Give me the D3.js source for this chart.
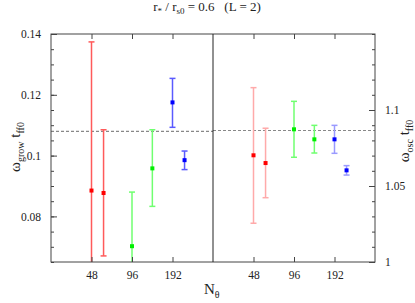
<!DOCTYPE html>
<html lang="en">
<head>
<meta charset="utf-8">
<title>growth and oscillation rates vs N_theta</title>
<script src="https://d3js.org/d3.v7.min.js"></script>
<style>
  body { margin: 0; background: #fff; }
  svg text { font-family: "Liberation Serif", "Times New Roman", Times, "DejaVu Serif", serif !important; fill: #222; }
</style>
</head>
<body>
<script>
// resolution ticks (N_theta)
var nTicks = [48, 96, 192];
// x positions of each point (second run of each colour is shifted a bit)
var nPos = [48, 59, 96, 136, 192, 236];
var group = ["red", "red", "green", "green", "blue", "blue"];

// left panel: omega_grow t_ff0
var growVal = [0.0885, 0.0877, 0.0702, 0.0958, 0.1175, 0.0985];
var growLo  = [0.0396, 0.0670, 0.0524, 0.0833, 0.1093, 0.0954];
var growHi  = [0.1374, 0.1085, 0.0880, 0.1085, 0.1254, 0.1015];
var growTicks = [0.08, 0.1, 0.12, 0.14];
var growRef = 0.108;

// right panel: omega_osc t_ff0
var oscVal = [1.0702, 1.0651, 1.0873, 1.0807, 1.0807, 1.0603];
var oscLo  = [1.0255, 1.0423, 1.0689, 1.0717, 1.0715, 1.0572];
var oscHi  = [1.1147, 1.0880, 1.1057, 1.0899, 1.0899, 1.0634];
var oscTicks = [1, 1.05, 1.1];
var oscRef = 1.0865;

var w = 415, h = 303;
// plot frame (note: "top" is reserved on window, so use pTop etc.)
var pLeft = 51, pMid = 213, pRight = 375, pTop = 34, pBottom = 262;
var axisCol = "#444";
var serif = "'Liberation Serif', 'Times New Roman', Times, 'DejaVu Serif', serif";

var markCol = { red: "#ff0000", green: "#00ee00", blue: "#0000ff" };
var barColL = { red: "#ff5a5a", green: "#70ff70", blue: "#5a5aff" };
var barColR = { red: "#ffaaaa", green: "#70ff70", blue: "#9a9aff" };

var svg = d3.select("body").append("svg")
  .attr("width", w).attr("height", h)
  .attr("font-family", serif);

var xL = d3.scaleLog().domain([24, 384]).range([pLeft, pMid]);
var xR = d3.scaleLog().domain([24, 384]).range([pMid, pRight]);
var yL = d3.scaleLinear().domain([0.065, 0.14]).range([pBottom, pTop]);
var yR = d3.scaleLinear().domain([1, 1.15]).range([pBottom, pTop]);

var defs = svg.append("defs");
defs.append("clipPath").attr("id", "clipL").append("rect")
  .attr("x", pLeft).attr("y", pTop).attr("width", pMid - pLeft).attr("height", pBottom - pTop);
defs.append("clipPath").attr("id", "clipR").append("rect")
  .attr("x", pMid).attr("y", pTop).attr("width", pRight - pMid).attr("height", pBottom - pTop);

function panel(x, y, val, lo, hi, ref, barCol, clip) {
  var g = svg.append("g").attr("clip-path", "url(#" + clip + ")");
  var xr = x.range();
  g.append("line")
    .attr("x1", xr[0]).attr("x2", xr[1])
    .attr("y1", y(ref)).attr("y2", y(ref))
    .attr("stroke", "#888").attr("stroke-width", 1.2)
    .attr("stroke-dasharray", "3,2");
  nPos.forEach(function(n, i) {
    var cx = x(n), c = barCol[group[i]];
    g.append("line").attr("x1", cx).attr("x2", cx)
      .attr("y1", y(lo[i])).attr("y2", y(hi[i]))
      .attr("stroke", c).attr("stroke-width", 1.5);
    [lo[i], hi[i]].forEach(function(v) {
      g.append("line").attr("x1", cx - 3).attr("x2", cx + 3)
        .attr("y1", y(v)).attr("y2", y(v))
        .attr("stroke", c).attr("stroke-width", 1.5);
    });
    g.append("rect")
      .attr("x", cx - 2).attr("y", y(val[i]) - 2)
      .attr("width", 4).attr("height", 4)
      .attr("fill", markCol[group[i]]);
  });
}

panel(xL, yL, growVal, growLo, growHi, growRef, barColL, "clipL");
panel(xR, yR, oscVal, oscLo, oscHi, oscRef, barColR, "clipR");

// frame and divider
svg.append("rect").attr("x", pLeft).attr("y", pTop)
  .attr("width", pRight - pLeft).attr("height", pBottom - pTop)
  .attr("fill", "none").attr("stroke", axisCol).attr("stroke-width", 1);
svg.append("line").attr("x1", pMid).attr("x2", pMid).attr("y1", pTop).attr("y2", pBottom)
  .attr("stroke", "#222").attr("stroke-width", 1);

// x ticks (top inward, bottom inward with labels)
function xTicks(x) {
  var gb = svg.append("g").attr("transform", "translate(0," + pBottom + ")")
    .call(d3.axisBottom(x).tickValues(nTicks).tickFormat(d3.format("d")).tickSizeInner(-5).tickSizeOuter(0).tickPadding(9));
  var gt = svg.append("g").attr("transform", "translate(0," + pTop + ")")
    .call(d3.axisTop(x).tickValues(nTicks).tickFormat("").tickSizeInner(-5).tickSizeOuter(0));
  [gb, gt].forEach(function(g) {
    g.attr("font-family", serif).attr("font-size", 11.5);
    g.select(".domain").remove();
    g.selectAll("line").attr("stroke", axisCol);
    g.selectAll("text").attr("fill", "#222");
  });
}
xTicks(xL);
xTicks(xR);

// y axes
function yAxis(y, minorStep, ticks, isLeft) {
  var x0 = isLeft ? pLeft : pRight;
  var d = y.domain();
  var minor = d3.range(Math.ceil(d[0] / minorStep - 1e-6), Math.floor(d[1] / minorStep + 1e-6) + 1)
    .map(function(k) { return k * minorStep; });
  var gm = svg.append("g").attr("transform", "translate(" + x0 + ",0)")
    .call((isLeft ? d3.axisLeft(y) : d3.axisRight(y)).tickValues(minor).tickFormat("").tickSizeInner(-3).tickSizeOuter(0));
  var g = svg.append("g").attr("transform", "translate(" + x0 + ",0)")
    .call((isLeft ? d3.axisLeft(y) : d3.axisRight(y)).tickValues(ticks)
      .tickFormat(function(v) { return String(+v.toFixed(3)); })
      .tickSizeInner(-6).tickSizeOuter(0).tickPadding(10));
  [gm, g].forEach(function(gg) {
    gg.attr("font-family", serif).attr("font-size", 11.5);
    gg.select(".domain").remove();
    gg.selectAll("line").attr("stroke", axisCol);
    gg.selectAll("text").attr("fill", "#222");
  });
}
yAxis(yL, 0.005, growTicks, true);
yAxis(yR, 0.01, oscTicks, false);

// title
var title = svg.append("text").attr("x", 207).attr("y", 11)
  .attr("text-anchor", "middle").attr("font-size", 13);
title.append("tspan").text("r");
title.append("tspan").attr("font-size", 9).attr("dy", 3).text("*");
title.append("tspan").attr("dy", -3).text(" / r");
title.append("tspan").attr("font-size", 9).attr("dy", 3).text("s0");
title.append("tspan").attr("dy", -3).attr("xml:space", "preserve").text(" = 0.6   (L = 2)");

// y labels
function yLabel(x, y, sub) {
  var t = svg.append("text")
    .attr("transform", "translate(" + x + "," + y + ") rotate(-90)")
    .attr("text-anchor", "middle").attr("font-size", 15);
  t.append("tspan").text("ω");
  t.append("tspan").attr("font-size", 10).attr("dy", 4).text(sub);
  t.append("tspan").attr("dy", -4).text(" t");
  t.append("tspan").attr("font-size", 10).attr("dy", 4).text("ff0");
}
yLabel(20, 147, "grow");
yLabel(409, 141, "osc");

// x label
var xl = svg.append("text").attr("x", 204).attr("y", 294).attr("font-size", 15);
xl.append("tspan").text("N");
xl.append("tspan").attr("font-size", 10).attr("dy", 4).text("θ");
</script>
</body>
</html>
